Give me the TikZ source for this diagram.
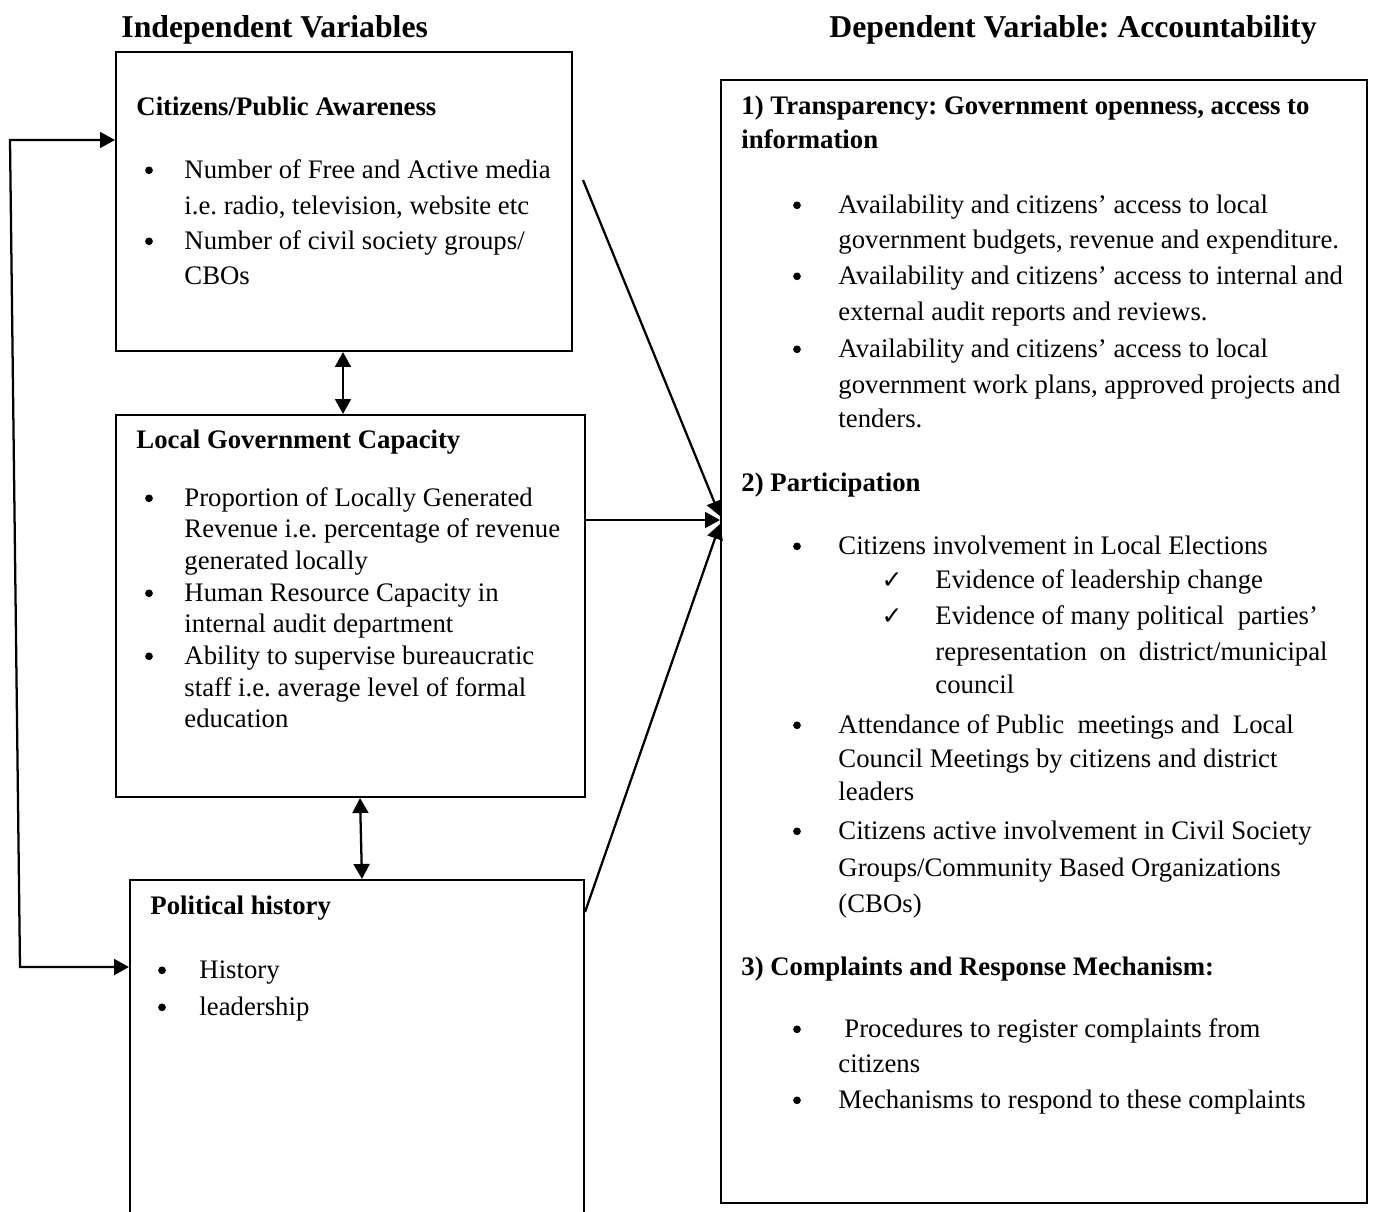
\documentclass[tikz,border=0pt]{standalone}
\usepackage{fontspec}
\setmainfont{Liberation Serif}
\newfontfamily\symfont{DejaVu Sans}
\usetikzlibrary{arrows.meta,fit}
\begin{document}
\frenchspacing
\begin{tikzpicture}[x=0.4412pt,y=-0.4412pt,
  box/.style={draw, line width=0.9pt, inner sep=0pt},
  txt/.style={anchor=base west, inner sep=0pt, font=\fontsize{11.8}{14}\selectfont},
  hd/.style={anchor=base west, inner sep=0pt, font=\fontsize{11.8}{14}\selectfont\bfseries},
  ttl/.style={anchor=base west, inner sep=0pt, font=\fontsize{14}{16}\selectfont\bfseries},
  bul/.style={circle, fill, inner sep=0pt, minimum size=3.4pt, yshift=3.4pt},
  chk/.style={anchor=base, inner sep=0pt, font=\fontsize{11}{13}\selectfont\symfont},
  tip/.tip={Triangle[length=6.6pt,width=7pt]},
  arr/.style={line width=1pt, -tip},
  darr/.style={line width=1pt, tip-tip}
]
\clip (0,0) rectangle (1375,1211);

% titles
\node[ttl] (t1) at (121,37) {Independent Variables};
\node[ttl] (t2) at (829,37) {Dependent Variable: Accountability};

% boxes
\node[box, fit={(116,52) (572,351)}] (cit) {};
\node[box, fit={(116,415) (585,797)}] (lgc) {};
\node[box, fit={(130,880) (584,1230)}] (pol) {};
\node[box, fit={(721,80) (1367,1203)}] (acc) {};

% box 1
\node[hd] (c0) at (136,115) {Citizens/Public Awareness};
\node[bul] (cb1) at (149,178) {};
\node[txt] (c1) at (184,178) {Number of Free and Active media};
\node[txt] (c2) at (184,214) {i.e. radio, television, website etc};
\node[bul] (cb2) at (149,249) {};
\node[txt] (c3) at (184,249) {Number of civil society groups/};
\node[txt] (c4) at (184,284) {CBOs};

% box 2
\node[hd] (g0) at (136,448) {Local Government Capacity};
\node[bul] (gb1) at (149,506) {};
\node[txt] (g1) at (184,506) {Proportion of Locally Generated};
\node[txt] (g2) at (184,537) {Revenue i.e. percentage of revenue};
\node[txt] (g3) at (184,569) {generated locally};
\node[bul] (gb2) at (149,601) {};
\node[txt] (g4) at (184,601) {Human Resource Capacity in};
\node[txt] (g5) at (184,632) {internal audit department};
\node[bul] (gb3) at (149,664) {};
\node[txt] (g6) at (184,664) {Ability to supervise bureaucratic};
\node[txt] (g7) at (184,696) {staff i.e. average level of formal};
\node[txt] (g8) at (184,727) {education};

% box 3
\node[hd] (p0) at (150,914) {Political history};
\node[bul] (pb1) at (162,978) {};
\node[txt] (p1) at (199,978) {History};
\node[bul] (pb2) at (162,1015) {};
\node[txt] (p2) at (199,1015) {leadership};

% right box
\node[hd] (a0) at (741,114) {1) Transparency: Government openness, access to};
\node[hd] (a0b) at (741,148) {information};
\node[bul] (ab1) at (797,213) {};
\node[txt] (a1) at (838,213) {Availability and citizens’ access to local};
\node[txt] (a2) at (838,248) {government budgets, revenue and expenditure.};
\node[bul] (ab2) at (797,284) {};
\node[txt] (a3) at (838,284) {Availability and citizens’ access to internal and};
\node[txt] (a4) at (838,320) {external audit reports and reviews.};
\node[bul] (ab3) at (797,357) {};
\node[txt] (a5) at (838,357) {Availability and citizens’ access to local};
\node[txt] (a6) at (838,393) {government work plans, approved projects and};
\node[txt] (a7) at (838,427) {tenders.};

\node[hd] (b0) at (741,491) {2) Participation};
\node[bul] (bb1) at (797,554) {};
\node[txt] (b1) at (838,554) {Citizens involvement in Local Elections};
\node[chk] (bc1) at (892,588) {✓};
\node[txt] (b2) at (935,588) {Evidence of leadership change};
\node[chk] (bc2) at (892,624) {✓};
\node[txt] (b3) at (935,624) {Evidence of many political\ \ parties’};
\node[txt] (b4) at (935,660) {\makebox[173pt][s]{representation on district/municipal}};
\node[txt] (b5) at (935,693) {council};
\node[bul] (bb2) at (797,733) {};
\node[txt] (b6) at (838,733) {Attendance of Public\ \ meetings and\ \ Local};
\node[txt] (b7) at (838,767) {Council Meetings by citizens and district};
\node[txt] (b8) at (838,800) {leaders};
\node[bul] (bb3) at (797,839) {};
\node[txt] (b9) at (838,839) {Citizens active involvement in Civil Society};
\node[txt] (b10) at (838,876) {Groups/Community Based Organizations};
\node[txt] (b11) at (838,912) {(CBOs)};

\node[hd] (d0) at (741,975) {3) Complaints and Response Mechanism:};
\node[bul] (db1) at (797,1037) {};
\node[txt] (d1) at (844,1037) {Procedures to register complaints from};
\node[txt] (d2) at (838,1072) {citizens};
\node[bul] (db2) at (797,1108) {};
\node[txt] (d3) at (838,1108) {Mechanisms to respond to these complaints};

% connectors
\coordinate (lpA) at (10,140);
\coordinate (lpB) at (20,967);
\draw[darr] (cit.west |- lpA) -- (lpA) -- (lpB) -- (pol.west |- lpB);

\coordinate (v1) at (343,0);
\draw[darr] (cit.south -| v1) -- (lgc.north -| v1);
\coordinate (v2a) at (360,0);
\coordinate (v2b) at (362,0);
\draw[darr] (lgc.south -| v2a) -- (pol.north -| v2b);

\coordinate (s1) at (583,180);
\coordinate (hitA) at (0,516);
\coordinate (hit) at (0,520);
\coordinate (hitC) at (0,524);
\coordinate (s3) at (0,912);
\draw[arr] (s1) -- (acc.west |- hitA);
\draw[arr] (lgc.east |- hit) -- (acc.west |- hit);
\draw[arr] (pol.east |- s3) -- (acc.west |- hitC);
\end{tikzpicture}
\end{document}
